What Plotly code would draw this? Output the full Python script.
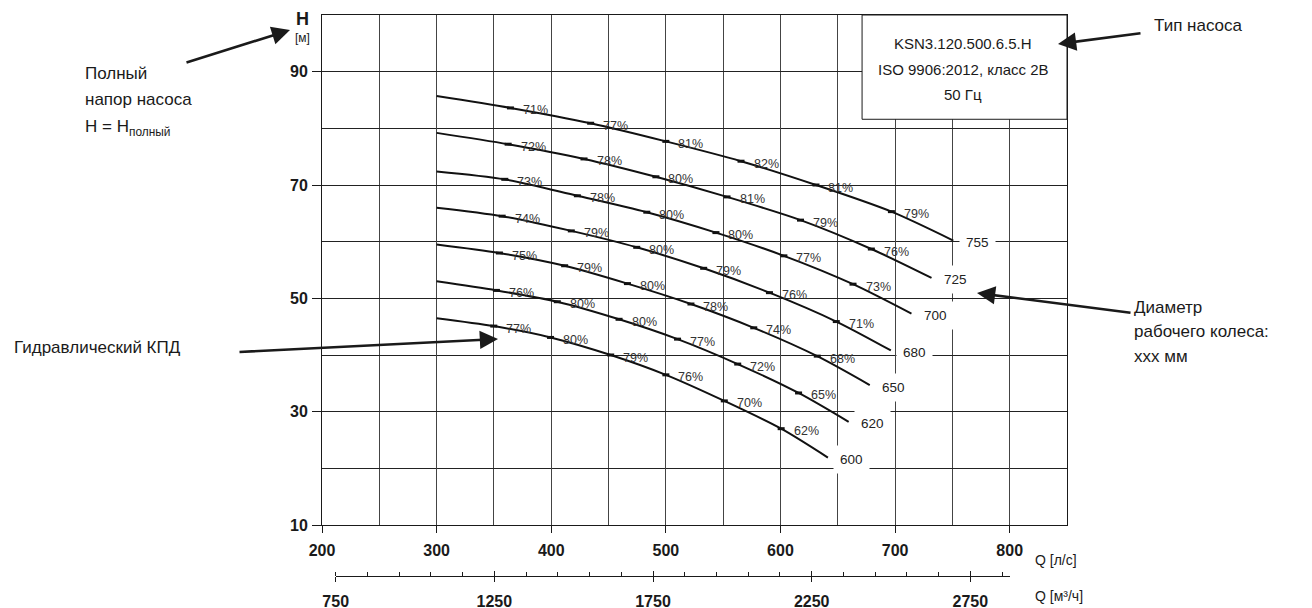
import plotly.graph_objects as go

# ---------------- data ----------------
diameters = [755, 725, 700, 680, 650, 620, 600]          # impeller diameter, mm
start_q = [300, 300, 300, 300, 300, 300, 300]             # l/s
start_h = [85.7, 79.2, 72.4, 66.0, 59.5, 53.0, 46.5]      # m
end_q = [750.8, 731.8, 714.3, 696.3, 677.9, 659.5, 641.4]
end_h = [60.2, 53.6, 47.3, 40.8, 34.7, 28.2, 21.9]

# efficiency points on each curve
eff_q = [
    [364.4, 434.4, 500.0, 565.6, 631.0, 696.8],
    [362.4, 428.6, 491.3, 553.4, 617.5, 679.3],
    [359.5, 422.8, 483.4, 543.7, 603.0, 663.3],
    [357.2, 417.5, 474.6, 533.0, 590.4, 648.7],
    [354.8, 411.7, 466.5, 521.9, 576.7, 632.1],
    [352.2, 405.3, 459.2, 510.2, 562.7, 615.8],
    [349.9, 399.4, 451.9, 500.0, 551.0, 600.6],
]
eff_h = [
    [83.6, 80.9, 77.7, 74.2, 70.0, 65.3],
    [77.2, 74.6, 71.45, 67.9, 63.8, 58.7],
    [71.0, 68.1, 65.2, 61.6, 57.5, 52.5],
    [64.5, 61.9, 59.0, 55.3, 51.0, 45.9],
    [58.0, 55.75, 52.6, 49.0, 44.8, 39.8],
    [51.4, 49.4, 46.3, 42.8, 38.4, 33.3],
    [45.1, 43.1, 40.0, 36.5, 31.9, 27.0],
]
eff_pct = [
    [71, 77, 81, 82, 81, 79],
    [72, 78, 80, 81, 79, 76],
    [73, 78, 80, 80, 77, 73],
    [74, 79, 80, 79, 76, 71],
    [75, 79, 80, 78, 74, 68],
    [76, 80, 80, 77, 72, 65],
    [77, 80, 79, 76, 70, 62],
]

q_ls_range = [200, 850]
h_range = [10, 100]
q_m3h_range = [750, 2875]

pump_box_text = ["KSN3.120.500.6.5.H", "ISO 9906:2012, класс 2B", "50 Гц"]

# ---------------- layout helpers ----------------
S = 1.0             # vertical ratio between page and photo
BODY = 8            # default body margin of the page
W, H = 1296, 620


def F(ref_y):       # photo y -> figure y
    return ref_y / S - BODY


REF_LEFT, REF_RIGHT, REF_TOP, REF_AX, REF_AX2 = 322, 1067, 15, 525, 576
ML = REF_LEFT - BODY
MR = W - (REF_RIGHT - BODY)
MT = F(REF_TOP)
MB = H - F(REF_AX2)
PW = REF_RIGHT - REF_LEFT
PH_REF = REF_AX2 - REF_TOP


def xp(px):
    return (px - REF_LEFT) / PW


def yp(py):
    return (REF_AX2 - py) / PH_REF


ARIAL = "Liberation Sans, Arial, sans-serif"
INK = "#1a1a1a"


def txt(t, px, py, size, xanchor="center", color=INK):
    return dict(x=xp(px), y=yp(py), xref="paper", yref="paper", text=t,
                showarrow=False, xanchor=xanchor, yanchor="middle",
                font=dict(family=ARIAL, size=size, color=color))


fig = go.Figure()

for i, d in enumerate(diameters):
    xs = [start_q[i]] + eff_q[i] + [end_q[i]]
    ys = [start_h[i]] + eff_h[i] + [end_h[i]]
    fig.add_trace(go.Scatter(
        x=xs, y=ys, mode="lines",
        line=dict(color="#111111", width=2, shape="spline", smoothing=0.8),
        hoverinfo="skip", showlegend=False))
    fig.add_trace(go.Scatter(
        x=eff_q[i], y=eff_h[i], mode="markers",
        marker=dict(symbol="line-ew", size=5, line=dict(width=3, color="#111111")),
        hoverinfo="skip", showlegend=False))

annotations = []
for i, d in enumerate(diameters):
    for q, h, e in zip(eff_q[i], eff_h[i], eff_pct[i]):
        annotations.append(dict(
            x=q, y=h, xref="x", yref="y", text=f"{e}%", showarrow=False,
            xanchor="center", yanchor="middle", xshift=25, yshift=-2.5 / S,
            font=dict(family=ARIAL, size=12.5, color="#333333")))
    annotations.append(dict(
        x=end_q[i], y=end_h[i], xref="x", yref="y", text=str(d), showarrow=False,
        xanchor="center", yanchor="middle",
        xshift=24, yshift=-2 / S, bgcolor="white", borderpad=6,
        font=dict(family=ARIAL, size=13.5, color="#222222")))

# pump type box text
for t, py in zip(pump_box_text, [44, 70, 94]):
    annotations.append(txt(t, 963, py, 15))

# axis captions
annotations += [
    txt("<b>H</b>", 302, 19, 18),
    txt("[м]", 302, 38, 12),
    txt("Q [л/с]", 1033, 560, 14, xanchor="left"),
    txt("Q [м³/ч]", 1033, 596, 14, xanchor="left"),
]

# explanatory texts
for t, py in [("Полный", 73), ("напор насоса", 100), ("H = H<sub>полный</sub>", 128)]:
    annotations.append(txt(t, 83, py, 17, xanchor="left"))
annotations.append(txt("Тип насоса", 1152, 25, 17, xanchor="left"))
annotations.append(txt("Гидравлический КПД", 12, 348, 17, xanchor="left"))
for t, py in [("Диаметр", 307), ("рабочего колеса:", 331), ("xxx мм", 356)]:
    annotations.append(txt(t, 1132, py, 17, xanchor="left"))

# arrows (head, tail) in photo pixels
for (hx, hy), (tx, ty) in [((290, 30), (185, 63)),
                           ((1058, 44), (1142, 33)),
                           ((498, 339), (238, 352)),
                           ((977, 293), (1132, 313))]:
    annotations.append(dict(x=xp(hx), y=yp(hy), xref="paper", yref="paper",
                            ax=tx - hx, ay=(ty - hy) / S, text="", showarrow=True,
                            arrowhead=2, arrowsize=1.4, arrowwidth=2.6,
                            arrowcolor=INK, standoff=0))

shapes = [dict(type="rect", xref="x", yref="y", x0=671.2, x1=850, y0=81.6, y1=100,
               fillcolor="white", line=dict(color=INK, width=1), layer="above")]

ydom0 = yp(REF_AX)
xd0, xd1 = xp(335.7), xp(1010)

tickfont = dict(family=ARIAL, size=16, color=INK, weight="bold")

fig.update_layout(
    width=W, height=H, autosize=False,
    margin=dict(l=ML, r=MR, t=MT, b=MB, pad=0),
    paper_bgcolor="white", plot_bgcolor="white",
    showlegend=False,
    annotations=annotations,
    shapes=shapes,
    xaxis=dict(range=q_ls_range, domain=[0, 1], anchor="y",
               tick0=200, dtick=100, ticks="outside", ticklen=7,
               tickcolor=INK, tickfont=tickfont, ticklabelstandoff=4,
               showgrid=True, gridcolor="#444444", gridwidth=1,
               minor=dict(tick0=200, dtick=50, showgrid=True, gridcolor="#444444",
                          gridwidth=1, ticks=""),
               showline=True, linecolor=INK, linewidth=1, mirror=True,
               zeroline=False, fixedrange=True),
    yaxis=dict(range=h_range, domain=[ydom0, 1], anchor="x",
               tick0=10, dtick=20, ticks="outside", ticklen=9,
               tickcolor=INK, tickfont=tickfont, ticklabelstandoff=1,
               showgrid=True, gridcolor="#222222", gridwidth=1,
               minor=dict(tick0=10, dtick=10, showgrid=True, gridcolor="#222222",
                          gridwidth=1, ticks=""),
               showline=True, linecolor=INK, linewidth=1, mirror=True,
               zeroline=False, fixedrange=True),
    # second flow scale (m3/h) below the chart, on its own empty strip
    yaxis2=dict(domain=[0, ydom0 * 0.4], range=[0, 1], anchor="x2", visible=False,
                fixedrange=True),
    xaxis2=dict(range=q_m3h_range, domain=[xd0, xd1], anchor="y2", side="bottom",
                tick0=750, dtick=500, ticks="outside", ticklen=5, tickwidth=1,
                tickcolor=INK, tickfont=tickfont, ticklabelstandoff=6,
                minor=dict(tick0=750, dtick=100, ticks="inside", ticklen=4,
                           tickcolor=INK, showgrid=False),
                showgrid=False, showline=True, linecolor=INK, linewidth=1,
                zeroline=False, fixedrange=True),
    xaxis3=dict(range=q_m3h_range, overlaying="x2", anchor="y2", side="bottom",
                tick0=750, dtick=500, ticks="inside", ticklen=5, tickwidth=1,
                tickcolor=INK, showticklabels=False,
                showgrid=False, showline=False, zeroline=False, fixedrange=True),
)

# invisible traces to activate the secondary axes
fig.add_trace(go.Scatter(x=[q_m3h_range[0]], y=[0], xaxis="x2", yaxis="y2",
                         mode="markers", marker=dict(opacity=0), hoverinfo="skip",
                         showlegend=False))
fig.add_trace(go.Scatter(x=[q_m3h_range[0]], y=[0], xaxis="x3", yaxis="y2",
                         mode="markers", marker=dict(opacity=0), hoverinfo="skip",
                         showlegend=False))

fig.write_html("out.html")
